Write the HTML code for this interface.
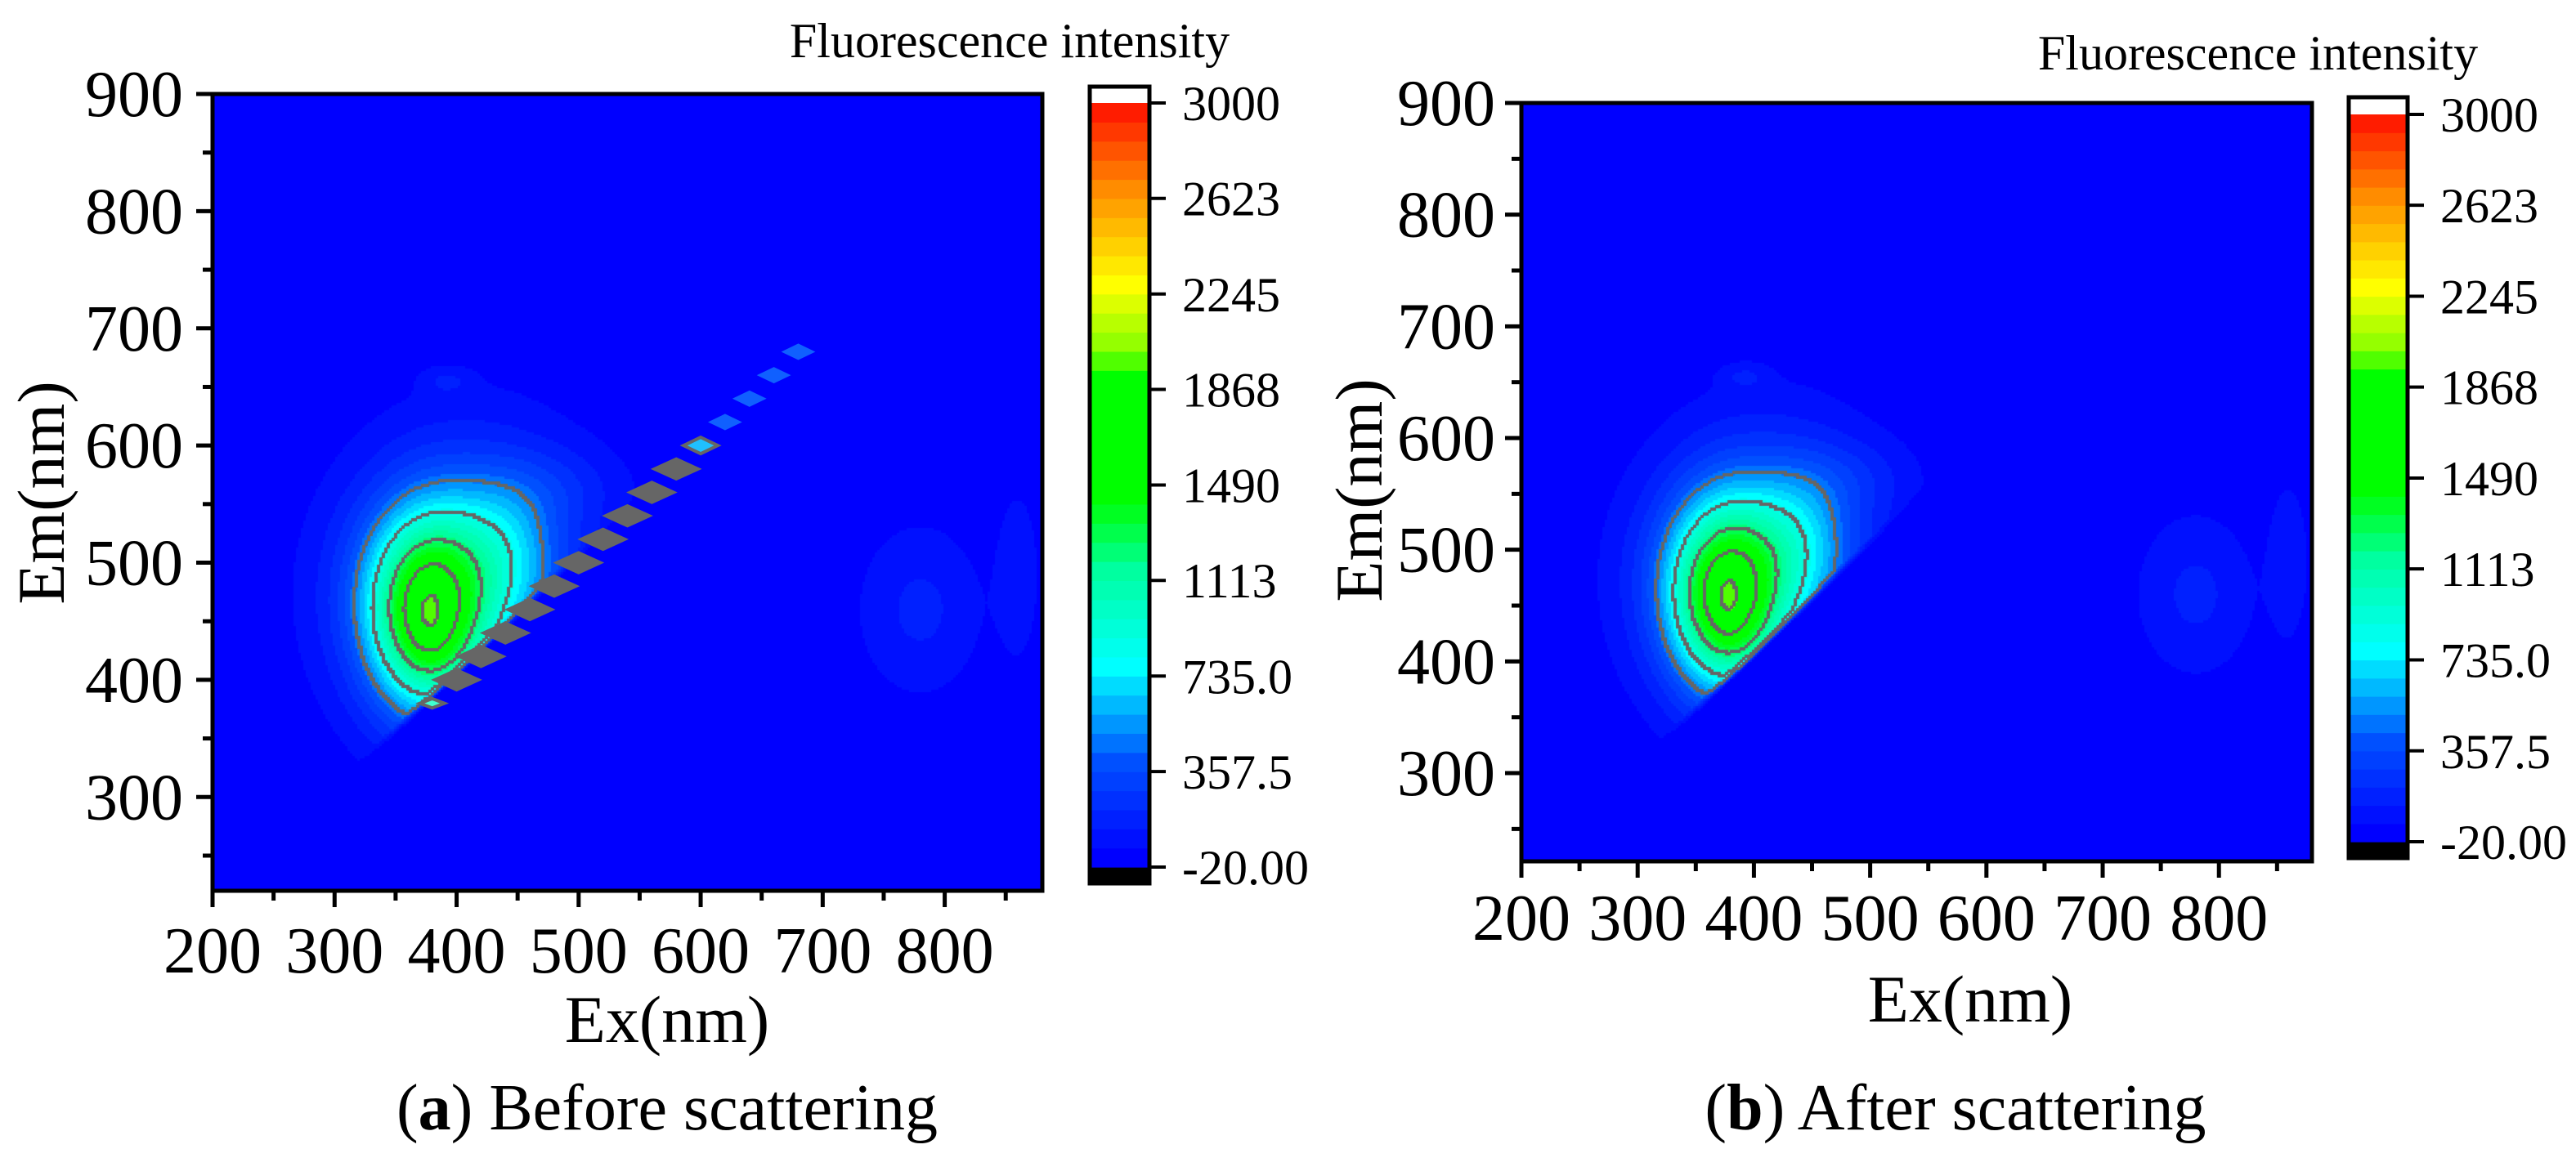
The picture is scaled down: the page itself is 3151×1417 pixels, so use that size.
<!DOCTYPE html>
<html><head><meta charset="utf-8">
<style>
html,body{margin:0;padding:0;background:#fff;}
#wrap{position:relative;width:3151px;height:1417px;overflow:hidden;background:#fff;}
canvas{position:absolute;}
svg{position:absolute;left:0;top:0;}
text{font-family:"Liberation Serif",serif;fill:#000;}
</style></head>
<body>
<div id="wrap">
<canvas id="cvA"></canvas>
<canvas id="cvB"></canvas>
<svg id="svg" width="3151" height="1417"></svg>
</div>
<script>
// ---- data ----
const xTicks = [200,300,400,500,600,700,800];
const yTicks = [300,400,500,600,700,800,900];
const cbTickValues = [-20,357.5,735,1113,1490,1868,2245,2623,3000];
const cbTickLabels = ["-20.00","357.5","735.0","1113","1490","1868","2245","2623","3000"];
const contourLevels = [500,850,1250,1600,1950];
// fluorescence components (Gaussian peaks)
const compEx  = [375, 390, 425, 378, 780, 860, 392, 480, 440];
const compEm  = [455, 472, 505, 452, 460, 490, 655, 565, 510];
const compAmp = [1150,600, 220, 150, 150, 120, 110, 110, 250];
const compSx  = [32,  55,  60,  9,   35,  12,  14,  40,  30];
const compSy  = [55,  68,  78,  22,  50,  50,  8,   25,  40];
// Rayleigh scatter patches (panel a)
const scatterEx = [380,400,420,440,460,480,500,520,540,560,580,600,620,640,660,680];
const scatterKind = [2,1,1,1,1,1,1,1,1,1,1,3,4,4,4,4];
// colormap stops
const cmapVals = [-20,357.5,735,1113,1400,1868,2000,2245,2623,3000];
const cmapCols = [[0,0,255],[0,80,255],[0,255,255],[0,255,160],[0,255,0],[0,255,0],[140,255,0],[255,255,0],[255,140,0],[255,0,0]];
const nBands = 40;

const NS="http://www.w3.org/2000/svg";
const svg=document.getElementById('svg');
function el(tag,attrs,parent){const e=document.createElementNS(NS,tag);for(const k in attrs)e.setAttribute(k,attrs[k]);(parent||svg).appendChild(e);return e;}

function cmap(v){
  const lo=cmapVals[0],hi=cmapVals[cmapVals.length-1];
  let b=Math.floor((v-lo)/(hi-lo)*nBands); if(b<0)b=0; if(b>=nBands)b=nBands-1;
  const q=lo+b*(hi-lo)/nBands;
  for(let i=0;i<cmapVals.length-1;i++){
    if(q<=cmapVals[i+1]){const t=(q-cmapVals[i])/(cmapVals[i+1]-cmapVals[i]);
      const a=cmapCols[i],c=cmapCols[i+1];return [a[0]+(c[0]-a[0])*t,a[1]+(c[1]-a[1])*t,a[2]+(c[2]-a[2])*t].map(Math.round);}
  }
  return cmapCols[cmapCols.length-1];
}
function field(ex,em){
  let v=0;
  for(let i=0;i<compEx.length;i++){
    const dx=(ex-compEx[i])/compSx[i],dy=(em-compEm[i])/compSy[i];
    v+=compAmp[i]*Math.exp(-0.5*(dx*dx+dy*dy));
  }
  if(ex<700){const d=em-ex-12; if(d<0) v*=Math.max(0,1+d/10);}
  return v;
}

function panel(cfg){
  const g=el('g',{});
  
  
  const X=v=>cfg.x0+(v-200)*(cfg.x1-cfg.x0)/(cfg.xmax-200);
  const Y=v=>cfg.y0+(900-v)*(cfg.y1-cfg.y0)/(900-cfg.ymin);
  const cv=document.getElementById(cfg.canvas);
  const W=cfg.x1-cfg.x0,H=cfg.y1-cfg.y0;
  cv.width=W;cv.height=H;cv.style.left=cfg.x0+'px';cv.style.top=cfg.y0+'px';
  const ctx=cv.getContext('2d');
  const cs=3,nx=Math.ceil(W/cs),ny=Math.ceil(H/cs);
  const vals=[];
  for(let j=0;j<ny;j++){vals.push([]);for(let i=0;i<nx;i++){
    const ex=200+(i*cs+cs/2)/W*(cfg.xmax-200), em=900-(j*cs+cs/2)/H*(900-cfg.ymin);
    vals[j].push(field(ex,em));}}
  for(let j=0;j<ny;j++)for(let i=0;i<nx;i++){
    const c=cmap(vals[j][i]);ctx.fillStyle='rgb('+c[0]+','+c[1]+','+c[2]+')';ctx.fillRect(i*cs,j*cs,cs,cs);}
  const lvl=v=>{let k=0;for(const L of contourLevels)if(v>=L)k++;return k;};
  ctx.fillStyle='#666';
  for(let j=0;j<ny-1;j++)for(let i=0;i<nx-1;i++){
    const a=lvl(vals[j][i]);
    if(a!==lvl(vals[j][i+1])||a!==lvl(vals[j+1][i])) ctx.fillRect(i*cs,j*cs,4,4);
  }
  if(cfg.scatter){
    for(let k=0;k<scatterEx.length;k++){
      const e=scatterEx[k],kind=scatterKind[k];
      const hw=kind>=3?14:(kind==2?10:21), hh=kind>=3?7:(kind==2?4:10);
      const pts=[[e-hw,e],[e,e+hh],[e+hw,e],[e,e-hh]].map(p=>(X(p[0]))+','+(Y(p[1]))).join(' ');
      const fill=kind==1?'#666666':(kind==2?'#40ffd0':(k==11?'#20c0ff':'#1060ff'));
      const p=el('polygon',{points:pts,fill:fill,stroke:kind<=3?'#666':'none','stroke-width':kind==1?0:4},g);
      
      
    }
  }
  const fr=el('rect',{x:cfg.x0,y:cfg.y0,width:W,height:H,fill:'none',stroke:'#000','stroke-width':5},g);
  
  for(let v=200;v<=cfg.xmax;v+=50){const major=v%100===0;
    el('line',{x1:X(v),x2:X(v),y1:cfg.y1,y2:cfg.y1+(major?20:12),stroke:'#000','stroke-width':5},g);}
  for(const v of xTicks){const t=el('text',{x:X(v),y:cfg.xlabY,'font-size':80,'text-anchor':'middle'},g);t.textContent=v;
    }
  for(let v=250;v<=900;v+=50){const major=v%100===0;
    el('line',{x1:cfg.x0,x2:cfg.x0-(major?20:12),y1:Y(v),y2:Y(v),stroke:'#000','stroke-width':5},g);}
  for(const v of yTicks){const t=el('text',{x:cfg.x0-cfg.ylabGap,y:Y(v)+27,'font-size':80,'text-anchor':'end'},g);t.textContent=v;
    }
  const xt=el('text',{x:cfg.xtX,y:cfg.xtY,'font-size':82,'text-anchor':'middle'},g);xt.textContent='Ex(nm)';
  
  const yt=el('text',{x:0,y:0,'font-size':82,'text-anchor':'middle',transform:'translate('+cfg.ytX+','+cfg.ytY+') rotate(-90)'},g);yt.textContent='Em(nm)';
  
  const cb=el('g',{},g);
  const CY=v=>cfg.cbLo+(v+20)*(cfg.cbHi-cfg.cbLo)/3020;
  el('rect',{x:cfg.cbx0,y:cfg.cbTop,width:cfg.cbx1-cfg.cbx0,height:cfg.cbHi-cfg.cbTop,fill:'#fff'},cb);
  el('rect',{x:cfg.cbx0,y:cfg.cbLo,width:cfg.cbx1-cfg.cbx0,height:cfg.cbBot-cfg.cbLo,fill:'#000'},cb);
  for(let b=0;b<nBands;b++){
    const v0=-20+b*3020/nBands,v1=v0+3020/nBands,c=cmap(v0+1);
    el('rect',{x:cfg.cbx0,y:CY(v1),width:cfg.cbx1-cfg.cbx0,height:CY(v0)-CY(v1)+0.6,fill:'rgb('+c.join(',')+')'},cb);
  }
  el('rect',{x:cfg.cbx0,y:cfg.cbTop,width:cfg.cbx1-cfg.cbx0,height:cfg.cbBot-cfg.cbTop,fill:'none',stroke:'#000','stroke-width':5},cb);
  for(let k=0;k<cbTickValues.length;k++){const y=CY(cbTickValues[k]);
    el('line',{x1:cfg.cbx1,x2:cfg.cbx1+20,y1:y,y2:y,stroke:'#000','stroke-width':4},cb);
    const t=el('text',{x:cfg.cbx1+40,y:y+21,'font-size':60},cb);t.textContent=cbTickLabels[k];
    }
  const ct=el('text',{x:cfg.ctX,y:cfg.ctY,'font-size':60,'text-anchor':'middle'},g);ct.textContent='Fluorescence intensity';
  
  const cap=el('text',{x:cfg.capX,y:1382,'font-size':80,'text-anchor':'middle'},g);
  const b1=el('tspan',{},cap);b1.textContent='(';
  const b2=el('tspan',{'font-weight':'bold'},cap);b2.textContent=cfg.letter;
  const b3=el('tspan',{},cap);b3.textContent=') '+cfg.caption;
  
}

panel({name:'panel-a-before',canvas:'cvA',x0:260,x1:1275,y0:115,y1:1090,xmax:880,ymin:220,scatter:true,
  xlabY:1190,xtX:816,xtY:1275,ytX:78,ytY:603,ylabGap:36,
  cbx0:1333,cbx1:1406,cbTop:106,cbBot:1081,cbHi:126,cbLo:1061,ctX:1235,ctY:70,
  capX:816,letter:'a',caption:'Before scattering'});
panel({name:'panel-b-after',canvas:'cvB',x0:1861,x1:2828,y0:126,y1:1054,xmax:880,ymin:221,scatter:false,
  xlabY:1150,xtX:2410,xtY:1250,ytX:1690,ytY:600,ylabGap:32,
  cbx0:2873,cbx1:2945,cbTop:119,cbBot:1050,cbHi:140,cbLo:1030,ctX:2762,ctY:85,
  capX:2392,letter:'b',caption:'After scattering'});
</script>
</body></html>
